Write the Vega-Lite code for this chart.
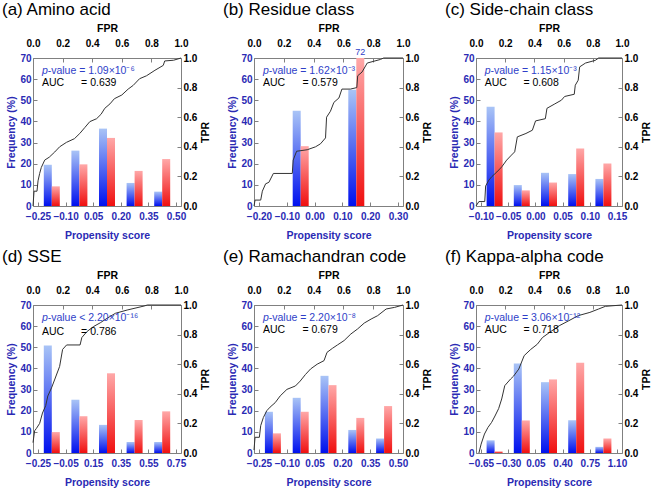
{
  "$schema": "https://vega.github.io/schema/vega-lite/v6.json",
  "background": "white",
  "padding": {"left": 1, "top": 0, "right": 0, "bottom": 1},
  "datasets": {
    "bars_a": [
      {"score": -0.175, "series": "S1", "freq": 19.5}, {"score": -0.025, "series": "S1", "freq": 26.2}, {"score": 0.125, "series": "S1", "freq": 36.6}, {"score": 0.275, "series": "S1", "freq": 10.9}, {"score": 0.425, "series": "S1", "freq": 6.8},
      {"score": -0.175, "series": "S2", "freq": 9.3}, {"score": -0.025, "series": "S2", "freq": 19.7}, {"score": 0.125, "series": "S2", "freq": 32.2}, {"score": 0.275, "series": "S2", "freq": 16.6}, {"score": 0.425, "series": "S2", "freq": 22.2}
    ],
    "bars_b": [
      {"score": -0.05, "series": "S1", "freq": 45}, {"score": 0.15, "series": "S1", "freq": 55},
      {"score": -0.05, "series": "S2", "freq": 28.3}, {"score": 0.15, "series": "S2", "freq": 72}
    ],
    "bars_c": [
      {"score": -0.075, "series": "S1", "freq": 46.9}, {"score": -0.025, "series": "S1", "freq": 9.9}, {"score": 0.025, "series": "S1", "freq": 15.7}, {"score": 0.075, "series": "S1", "freq": 15.1}, {"score": 0.125, "series": "S1", "freq": 12.8},
      {"score": -0.075, "series": "S2", "freq": 34.8}, {"score": -0.025, "series": "S2", "freq": 7.4}, {"score": 0.025, "series": "S2", "freq": 11.1}, {"score": 0.075, "series": "S2", "freq": 27.2}, {"score": 0.125, "series": "S2", "freq": 20.1}
    ],
    "bars_d": [
      {"score": -0.15, "series": "S1", "freq": 50.9}, {"score": 0.05, "series": "S1", "freq": 25.2}, {"score": 0.25, "series": "S1", "freq": 13.3}, {"score": 0.45, "series": "S1", "freq": 5.2}, {"score": 0.65, "series": "S1", "freq": 5.2},
      {"score": -0.15, "series": "S2", "freq": 9.9}, {"score": 0.05, "series": "S2", "freq": 17.4}, {"score": 0.25, "series": "S2", "freq": 37.7}, {"score": 0.45, "series": "S2", "freq": 15.6}, {"score": 0.65, "series": "S2", "freq": 19.7}
    ],
    "bars_e": [
      {"score": -0.175, "series": "S1", "freq": 19.5}, {"score": -0.025, "series": "S1", "freq": 26.1}, {"score": 0.125, "series": "S1", "freq": 36.5}, {"score": 0.275, "series": "S1", "freq": 10.9}, {"score": 0.425, "series": "S1", "freq": 6.9},
      {"score": -0.175, "series": "S2", "freq": 9.3}, {"score": -0.025, "series": "S2", "freq": 19.5}, {"score": 0.125, "series": "S2", "freq": 32.1}, {"score": 0.275, "series": "S2", "freq": 16.6}, {"score": 0.425, "series": "S2", "freq": 22.2}
    ],
    "bars_f": [
      {"score": -0.475, "series": "S1", "freq": 6.0}, {"score": -0.125, "series": "S1", "freq": 42.3}, {"score": 0.225, "series": "S1", "freq": 33.5}, {"score": 0.575, "series": "S1", "freq": 15.5}, {"score": 0.925, "series": "S1", "freq": 2.9},
      {"score": -0.475, "series": "S2", "freq": 0.8}, {"score": -0.125, "series": "S2", "freq": 15.4}, {"score": 0.225, "series": "S2", "freq": 34.8}, {"score": 0.575, "series": "S2", "freq": 42.7}, {"score": 0.925, "series": "S2", "freq": 6.8}
    ],
    "roc_a": [
      {"fpr": 0, "tpr": 0}, {"fpr": 0.007, "tpr": 0.1}, {"fpr": 0.027, "tpr": 0.1}, {"fpr": 0.034, "tpr": 0.17}, {"fpr": 0.045, "tpr": 0.22}, {"fpr": 0.056, "tpr": 0.26}, {"fpr": 0.079, "tpr": 0.31}, {"fpr": 0.11, "tpr": 0.33}, {"fpr": 0.147, "tpr": 0.365}, {"fpr": 0.18, "tpr": 0.4}, {"fpr": 0.226, "tpr": 0.43}, {"fpr": 0.28, "tpr": 0.455}, {"fpr": 0.316, "tpr": 0.49}, {"fpr": 0.35, "tpr": 0.53}, {"fpr": 0.384, "tpr": 0.57}, {"fpr": 0.43, "tpr": 0.59}, {"fpr": 0.46, "tpr": 0.62}, {"fpr": 0.485, "tpr": 0.66}, {"fpr": 0.52, "tpr": 0.69}, {"fpr": 0.55, "tpr": 0.725}, {"fpr": 0.6, "tpr": 0.75}, {"fpr": 0.643, "tpr": 0.79}, {"fpr": 0.677, "tpr": 0.815}, {"fpr": 0.72, "tpr": 0.86}, {"fpr": 0.767, "tpr": 0.88}, {"fpr": 0.824, "tpr": 0.917}, {"fpr": 0.88, "tpr": 0.95}, {"fpr": 0.89, "tpr": 0.98}, {"fpr": 0.95, "tpr": 0.985}, {"fpr": 1, "tpr": 1}
    ],
    "roc_b": [
      {"fpr": 0, "tpr": 0}, {"fpr": 0.007, "tpr": 0.04}, {"fpr": 0.045, "tpr": 0.04}, {"fpr": 0.056, "tpr": 0.1}, {"fpr": 0.078, "tpr": 0.15}, {"fpr": 0.1, "tpr": 0.16}, {"fpr": 0.13, "tpr": 0.22}, {"fpr": 0.257, "tpr": 0.22}, {"fpr": 0.263, "tpr": 0.31}, {"fpr": 0.286, "tpr": 0.37}, {"fpr": 0.357, "tpr": 0.38}, {"fpr": 0.413, "tpr": 0.4}, {"fpr": 0.446, "tpr": 0.42}, {"fpr": 0.48, "tpr": 0.46}, {"fpr": 0.487, "tpr": 0.6}, {"fpr": 0.513, "tpr": 0.64}, {"fpr": 0.536, "tpr": 0.7}, {"fpr": 0.57, "tpr": 0.73}, {"fpr": 0.59, "tpr": 0.79}, {"fpr": 0.647, "tpr": 0.79}, {"fpr": 0.69, "tpr": 0.8}, {"fpr": 0.696, "tpr": 0.88}, {"fpr": 0.725, "tpr": 0.905}, {"fpr": 0.76, "tpr": 0.966}, {"fpr": 0.848, "tpr": 0.99}, {"fpr": 0.87, "tpr": 1}, {"fpr": 1, "tpr": 1}
    ],
    "roc_c": [
      {"fpr": 0, "tpr": 0}, {"fpr": 0.02, "tpr": 0.03}, {"fpr": 0.06, "tpr": 0.03}, {"fpr": 0.066, "tpr": 0.135}, {"fpr": 0.088, "tpr": 0.175}, {"fpr": 0.11, "tpr": 0.2}, {"fpr": 0.143, "tpr": 0.23}, {"fpr": 0.177, "tpr": 0.265}, {"fpr": 0.21, "tpr": 0.31}, {"fpr": 0.243, "tpr": 0.344}, {"fpr": 0.265, "tpr": 0.366}, {"fpr": 0.283, "tpr": 0.467}, {"fpr": 0.342, "tpr": 0.49}, {"fpr": 0.386, "tpr": 0.512}, {"fpr": 0.408, "tpr": 0.575}, {"fpr": 0.475, "tpr": 0.59}, {"fpr": 0.486, "tpr": 0.66}, {"fpr": 0.54, "tpr": 0.69}, {"fpr": 0.585, "tpr": 0.715}, {"fpr": 0.607, "tpr": 0.74}, {"fpr": 0.673, "tpr": 0.755}, {"fpr": 0.68, "tpr": 0.816}, {"fpr": 0.7, "tpr": 0.85}, {"fpr": 0.71, "tpr": 0.94}, {"fpr": 0.75, "tpr": 0.966}, {"fpr": 0.817, "tpr": 0.984}, {"fpr": 0.84, "tpr": 1}, {"fpr": 1, "tpr": 1}
    ],
    "roc_d": [
      {"fpr": 0, "tpr": 0.07}, {"fpr": 0.011, "tpr": 0.15}, {"fpr": 0.023, "tpr": 0.166}, {"fpr": 0.045, "tpr": 0.2}, {"fpr": 0.064, "tpr": 0.27}, {"fpr": 0.086, "tpr": 0.32}, {"fpr": 0.1, "tpr": 0.385}, {"fpr": 0.125, "tpr": 0.44}, {"fpr": 0.148, "tpr": 0.5}, {"fpr": 0.18, "tpr": 0.585}, {"fpr": 0.2, "tpr": 0.7}, {"fpr": 0.227, "tpr": 0.73}, {"fpr": 0.318, "tpr": 0.73}, {"fpr": 0.33, "tpr": 0.78}, {"fpr": 0.364, "tpr": 0.82}, {"fpr": 0.41, "tpr": 0.855}, {"fpr": 0.455, "tpr": 0.88}, {"fpr": 0.5, "tpr": 0.91}, {"fpr": 0.557, "tpr": 0.944}, {"fpr": 0.636, "tpr": 0.966}, {"fpr": 0.75, "tpr": 0.993}, {"fpr": 0.773, "tpr": 1}, {"fpr": 1, "tpr": 1}
    ],
    "roc_e": [
      {"fpr": 0, "tpr": 0.02}, {"fpr": 0.007, "tpr": 0.106}, {"fpr": 0.036, "tpr": 0.106}, {"fpr": 0.045, "tpr": 0.185}, {"fpr": 0.063, "tpr": 0.24}, {"fpr": 0.086, "tpr": 0.286}, {"fpr": 0.108, "tpr": 0.31}, {"fpr": 0.142, "tpr": 0.34}, {"fpr": 0.176, "tpr": 0.386}, {"fpr": 0.221, "tpr": 0.43}, {"fpr": 0.278, "tpr": 0.453}, {"fpr": 0.31, "tpr": 0.486}, {"fpr": 0.345, "tpr": 0.53}, {"fpr": 0.38, "tpr": 0.568}, {"fpr": 0.424, "tpr": 0.6}, {"fpr": 0.47, "tpr": 0.624}, {"fpr": 0.49, "tpr": 0.68}, {"fpr": 0.526, "tpr": 0.707}, {"fpr": 0.56, "tpr": 0.73}, {"fpr": 0.605, "tpr": 0.76}, {"fpr": 0.65, "tpr": 0.804}, {"fpr": 0.695, "tpr": 0.838}, {"fpr": 0.74, "tpr": 0.878}, {"fpr": 0.786, "tpr": 0.905}, {"fpr": 0.83, "tpr": 0.928}, {"fpr": 0.887, "tpr": 0.973}, {"fpr": 0.944, "tpr": 0.984}, {"fpr": 1, "tpr": 1}
    ],
    "roc_f": [
      {"fpr": 0.02, "tpr": 0}, {"fpr": 0.035, "tpr": 0.06}, {"fpr": 0.058, "tpr": 0.128}, {"fpr": 0.082, "tpr": 0.173}, {"fpr": 0.107, "tpr": 0.207}, {"fpr": 0.13, "tpr": 0.25}, {"fpr": 0.155, "tpr": 0.3}, {"fpr": 0.176, "tpr": 0.365}, {"fpr": 0.197, "tpr": 0.455}, {"fpr": 0.237, "tpr": 0.5}, {"fpr": 0.258, "tpr": 0.52}, {"fpr": 0.293, "tpr": 0.567}, {"fpr": 0.33, "tpr": 0.658}, {"fpr": 0.375, "tpr": 0.7}, {"fpr": 0.42, "tpr": 0.735}, {"fpr": 0.455, "tpr": 0.78}, {"fpr": 0.52, "tpr": 0.826}, {"fpr": 0.57, "tpr": 0.86}, {"fpr": 0.636, "tpr": 0.894}, {"fpr": 0.7, "tpr": 0.928}, {"fpr": 0.78, "tpr": 0.95}, {"fpr": 0.84, "tpr": 0.973}, {"fpr": 0.886, "tpr": 0.991}, {"fpr": 1, "tpr": 1}
    ]
  },
  "concat": [
    {
      "width": 148, "height": 148,
      "title": {"text": "(a) Amino acid", "dx": -31},
      "layer": [
        {
          "data": {"name": "bars_a"},
          "encoding": {
            "x": {"field": "score", "type": "quantitative", "scale": {"domain": [-0.25, 0.5], "nice": false, "zero": false}, "axis": {"orient": "bottom", "title": "Propensity score", "values": [-0.25, -0.1, 0.05, 0.2, 0.35, 0.5], "format": ".2f"}},
            "y": {"field": "freq", "type": "quantitative", "scale": {"domain": [0, 70], "nice": false, "clamp": true}, "axis": {"orient": "left", "title": "Frequency (%)", "values": [0, 10, 20, 30, 40, 50, 60, 70]}}
          },
          "layer": [
            {"transform": [{"filter": "datum.series === 'S1'"}], "mark": {"type": "bar", "size": 8, "xOffset": -4, "color": {"gradient": "linear", "x1": 0, "y1": 0, "x2": 0, "y2": 1, "stops": [{"offset": 0, "color": "#a9c4f6"}, {"offset": 1, "color": "#0010ee"}]}}},
            {"transform": [{"filter": "datum.series === 'S2'"}], "mark": {"type": "bar", "size": 8, "xOffset": 4, "color": {"gradient": "linear", "x1": 0, "y1": 0, "x2": 0, "y2": 1, "stops": [{"offset": 0, "color": "#ffa8a8"}, {"offset": 1, "color": "#f01010"}]}}}
          ]
        },
        {
          "data": {"name": "roc_a"}, "mark": {"type": "line", "color": "#333333", "strokeWidth": 1},
          "encoding": {
            "x": {"field": "fpr", "type": "quantitative", "scale": {"domain": [0, 1], "nice": false}, "axis": {"orient": "top", "title": "FPR", "values": [0, 0.2, 0.4, 0.6, 0.8, 1], "format": ".1f"}},
            "y": {"field": "tpr", "type": "quantitative", "scale": {"domain": [0, 1], "nice": false}, "axis": {"orient": "right", "title": "TPR", "values": [0, 0.2, 0.4, 0.6, 0.8, 1], "format": ".1f"}}
          }
        },
        {
          "data": {"values": [{}]},
          "layer": [
            {"mark": {"type": "text", "text": "p", "fontStyle": "italic", "fontSize": 10.5, "color": "#2e3ec8", "align": "left", "baseline": "alphabetic"}, "encoding": {"x": {"datum": 0.06, "type": "quantitative", "scale": {"domain": [0, 1]}, "axis": null}, "y": {"datum": 0.89, "type": "quantitative", "scale": {"domain": [0, 1]}, "axis": null}}},
            {"mark": {"type": "text", "text": "-value = 1.09×10⁻⁶", "fontSize": 10.5, "color": "#2e3ec8", "align": "left", "baseline": "alphabetic"}, "encoding": {"x": {"datum": 0.099, "type": "quantitative", "scale": {"domain": [0, 1]}, "axis": null}, "y": {"datum": 0.89, "type": "quantitative", "scale": {"domain": [0, 1]}, "axis": null}}},
            {"mark": {"type": "text", "text": "AUC", "fontSize": 10.5, "color": "black", "align": "left", "baseline": "alphabetic"}, "encoding": {"x": {"datum": 0.06, "type": "quantitative", "scale": {"domain": [0, 1]}, "axis": null}, "y": {"datum": 0.81, "type": "quantitative", "scale": {"domain": [0, 1]}, "axis": null}}},
            {"mark": {"type": "text", "text": "= 0.639", "fontSize": 10.5, "color": "black", "align": "left", "baseline": "alphabetic"}, "encoding": {"x": {"datum": 0.325, "type": "quantitative", "scale": {"domain": [0, 1]}, "axis": null}, "y": {"datum": 0.81, "type": "quantitative", "scale": {"domain": [0, 1]}, "axis": null}}}
          ]
        }
      ],
      "resolve": {"scale": {"x": "independent", "y": "independent"}}
    },
    {
      "width": 149, "height": 148,
      "title": {"text": "(b) Residue class", "dx": -31},
      "layer": [
        {
          "data": {"name": "bars_b"},
          "encoding": {
            "x": {"field": "score", "type": "quantitative", "scale": {"domain": [-0.2, 0.3], "nice": false, "zero": false}, "axis": {"orient": "bottom", "title": "Propensity score", "values": [-0.2, -0.1, 0, 0.1, 0.2, 0.3], "format": ".2f"}},
            "y": {"field": "freq", "type": "quantitative", "scale": {"domain": [0, 70], "nice": false, "clamp": true}, "axis": {"orient": "left", "title": "Frequency (%)", "values": [0, 10, 20, 30, 40, 50, 60, 70]}}
          },
          "layer": [
            {"transform": [{"filter": "datum.series === 'S1'"}], "mark": {"type": "bar", "size": 8, "xOffset": -4, "color": {"gradient": "linear", "x1": 0, "y1": 0, "x2": 0, "y2": 1, "stops": [{"offset": 0, "color": "#a9c4f6"}, {"offset": 1, "color": "#0010ee"}]}}},
            {"transform": [{"filter": "datum.series === 'S2'"}], "mark": {"type": "bar", "size": 8, "xOffset": 4, "color": {"gradient": "linear", "x1": 0, "y1": 0, "x2": 0, "y2": 1, "stops": [{"offset": 0, "color": "#ffa8a8"}, {"offset": 1, "color": "#f01010"}]}}},
            {"transform": [{"filter": "datum.series === 'S2' && datum.freq > 70"}], "mark": {"type": "text", "xOffset": 4, "dy": -1, "fontSize": 9, "color": "#2e3ec8", "baseline": "bottom"}, "encoding": {"text": {"field": "freq", "type": "quantitative"}}}
          ]
        },
        {
          "data": {"name": "roc_b"}, "mark": {"type": "line", "color": "#333333", "strokeWidth": 1},
          "encoding": {
            "x": {"field": "fpr", "type": "quantitative", "scale": {"domain": [0, 1], "nice": false}, "axis": {"orient": "top", "title": "FPR", "values": [0, 0.2, 0.4, 0.6, 0.8, 1], "format": ".1f"}},
            "y": {"field": "tpr", "type": "quantitative", "scale": {"domain": [0, 1], "nice": false}, "axis": {"orient": "right", "title": "TPR", "values": [0, 0.2, 0.4, 0.6, 0.8, 1], "format": ".1f"}}
          }
        },
        {
          "data": {"values": [{}]},
          "layer": [
            {"mark": {"type": "text", "text": "p", "fontStyle": "italic", "fontSize": 10.5, "color": "#2e3ec8", "align": "left", "baseline": "alphabetic"}, "encoding": {"x": {"datum": 0.06, "type": "quantitative", "scale": {"domain": [0, 1]}, "axis": null}, "y": {"datum": 0.89, "type": "quantitative", "scale": {"domain": [0, 1]}, "axis": null}}},
            {"mark": {"type": "text", "text": "-value = 1.62×10⁻³", "fontSize": 10.5, "color": "#2e3ec8", "align": "left", "baseline": "alphabetic"}, "encoding": {"x": {"datum": 0.099, "type": "quantitative", "scale": {"domain": [0, 1]}, "axis": null}, "y": {"datum": 0.89, "type": "quantitative", "scale": {"domain": [0, 1]}, "axis": null}}},
            {"mark": {"type": "text", "text": "AUC", "fontSize": 10.5, "color": "black", "align": "left", "baseline": "alphabetic"}, "encoding": {"x": {"datum": 0.06, "type": "quantitative", "scale": {"domain": [0, 1]}, "axis": null}, "y": {"datum": 0.81, "type": "quantitative", "scale": {"domain": [0, 1]}, "axis": null}}},
            {"mark": {"type": "text", "text": "= 0.579", "fontSize": 10.5, "color": "black", "align": "left", "baseline": "alphabetic"}, "encoding": {"x": {"datum": 0.325, "type": "quantitative", "scale": {"domain": [0, 1]}, "axis": null}, "y": {"datum": 0.81, "type": "quantitative", "scale": {"domain": [0, 1]}, "axis": null}}}
          ]
        }
      ],
      "resolve": {"scale": {"x": "independent", "y": "independent"}}
    },
    {
      "width": 146, "height": 148,
      "title": {"text": "(c) Side-chain class", "dx": -31},
      "layer": [
        {
          "data": {"name": "bars_c"},
          "encoding": {
            "x": {"field": "score", "type": "quantitative", "scale": {"domain": [-0.1, 0.15], "nice": false, "zero": false}, "axis": {"orient": "bottom", "title": "Propensity score", "values": [-0.1, -0.05, 0, 0.05, 0.1, 0.15], "format": ".2f"}},
            "y": {"field": "freq", "type": "quantitative", "scale": {"domain": [0, 70], "nice": false, "clamp": true}, "axis": {"orient": "left", "title": "Frequency (%)", "values": [0, 10, 20, 30, 40, 50, 60, 70]}}
          },
          "layer": [
            {"transform": [{"filter": "datum.series === 'S1'"}], "mark": {"type": "bar", "size": 8, "xOffset": -4, "color": {"gradient": "linear", "x1": 0, "y1": 0, "x2": 0, "y2": 1, "stops": [{"offset": 0, "color": "#a9c4f6"}, {"offset": 1, "color": "#0010ee"}]}}},
            {"transform": [{"filter": "datum.series === 'S2'"}], "mark": {"type": "bar", "size": 8, "xOffset": 4, "color": {"gradient": "linear", "x1": 0, "y1": 0, "x2": 0, "y2": 1, "stops": [{"offset": 0, "color": "#ffa8a8"}, {"offset": 1, "color": "#f01010"}]}}}
          ]
        },
        {
          "data": {"name": "roc_c"}, "mark": {"type": "line", "color": "#333333", "strokeWidth": 1},
          "encoding": {
            "x": {"field": "fpr", "type": "quantitative", "scale": {"domain": [0, 1], "nice": false}, "axis": {"orient": "top", "title": "FPR", "values": [0, 0.2, 0.4, 0.6, 0.8, 1], "format": ".1f"}},
            "y": {"field": "tpr", "type": "quantitative", "scale": {"domain": [0, 1], "nice": false}, "axis": {"orient": "right", "title": "TPR", "values": [0, 0.2, 0.4, 0.6, 0.8, 1], "format": ".1f"}}
          }
        },
        {
          "data": {"values": [{}]},
          "layer": [
            {"mark": {"type": "text", "text": "p", "fontStyle": "italic", "fontSize": 10.5, "color": "#2e3ec8", "align": "left", "baseline": "alphabetic"}, "encoding": {"x": {"datum": 0.06, "type": "quantitative", "scale": {"domain": [0, 1]}, "axis": null}, "y": {"datum": 0.89, "type": "quantitative", "scale": {"domain": [0, 1]}, "axis": null}}},
            {"mark": {"type": "text", "text": "-value = 1.15×10⁻³", "fontSize": 10.5, "color": "#2e3ec8", "align": "left", "baseline": "alphabetic"}, "encoding": {"x": {"datum": 0.099, "type": "quantitative", "scale": {"domain": [0, 1]}, "axis": null}, "y": {"datum": 0.89, "type": "quantitative", "scale": {"domain": [0, 1]}, "axis": null}}},
            {"mark": {"type": "text", "text": "AUC", "fontSize": 10.5, "color": "black", "align": "left", "baseline": "alphabetic"}, "encoding": {"x": {"datum": 0.06, "type": "quantitative", "scale": {"domain": [0, 1]}, "axis": null}, "y": {"datum": 0.81, "type": "quantitative", "scale": {"domain": [0, 1]}, "axis": null}}},
            {"mark": {"type": "text", "text": "= 0.608", "fontSize": 10.5, "color": "black", "align": "left", "baseline": "alphabetic"}, "encoding": {"x": {"datum": 0.325, "type": "quantitative", "scale": {"domain": [0, 1]}, "axis": null}, "y": {"datum": 0.81, "type": "quantitative", "scale": {"domain": [0, 1]}, "axis": null}}}
          ]
        }
      ],
      "resolve": {"scale": {"x": "independent", "y": "independent"}}
    },
    {
      "width": 148, "height": 148,
      "title": {"text": "(d) SSE", "dx": -31},
      "layer": [
        {
          "data": {"name": "bars_d"},
          "encoding": {
            "x": {"field": "score", "type": "quantitative", "scale": {"domain": [-0.25, 0.75], "nice": false, "zero": false}, "axis": {"orient": "bottom", "title": "Propensity score", "values": [-0.25, -0.05, 0.15, 0.35, 0.55, 0.75], "format": ".2f"}},
            "y": {"field": "freq", "type": "quantitative", "scale": {"domain": [0, 70], "nice": false, "clamp": true}, "axis": {"orient": "left", "title": "Frequency (%)", "values": [0, 10, 20, 30, 40, 50, 60, 70]}}
          },
          "layer": [
            {"transform": [{"filter": "datum.series === 'S1'"}], "mark": {"type": "bar", "size": 8, "xOffset": -4, "color": {"gradient": "linear", "x1": 0, "y1": 0, "x2": 0, "y2": 1, "stops": [{"offset": 0, "color": "#a9c4f6"}, {"offset": 1, "color": "#0010ee"}]}}},
            {"transform": [{"filter": "datum.series === 'S2'"}], "mark": {"type": "bar", "size": 8, "xOffset": 4, "color": {"gradient": "linear", "x1": 0, "y1": 0, "x2": 0, "y2": 1, "stops": [{"offset": 0, "color": "#ffa8a8"}, {"offset": 1, "color": "#f01010"}]}}}
          ]
        },
        {
          "data": {"name": "roc_d"}, "mark": {"type": "line", "color": "#333333", "strokeWidth": 1},
          "encoding": {
            "x": {"field": "fpr", "type": "quantitative", "scale": {"domain": [0, 1], "nice": false}, "axis": {"orient": "top", "title": "FPR", "values": [0, 0.2, 0.4, 0.6, 0.8, 1], "format": ".1f"}},
            "y": {"field": "tpr", "type": "quantitative", "scale": {"domain": [0, 1], "nice": false}, "axis": {"orient": "right", "title": "TPR", "values": [0, 0.2, 0.4, 0.6, 0.8, 1], "format": ".1f"}}
          }
        },
        {
          "data": {"values": [{}]},
          "layer": [
            {"mark": {"type": "text", "text": "p", "fontStyle": "italic", "fontSize": 10.5, "color": "#2e3ec8", "align": "left", "baseline": "alphabetic"}, "encoding": {"x": {"datum": 0.06, "type": "quantitative", "scale": {"domain": [0, 1]}, "axis": null}, "y": {"datum": 0.89, "type": "quantitative", "scale": {"domain": [0, 1]}, "axis": null}}},
            {"mark": {"type": "text", "text": "-value < 2.20×10⁻¹⁶", "fontSize": 10.5, "color": "#2e3ec8", "align": "left", "baseline": "alphabetic"}, "encoding": {"x": {"datum": 0.099, "type": "quantitative", "scale": {"domain": [0, 1]}, "axis": null}, "y": {"datum": 0.89, "type": "quantitative", "scale": {"domain": [0, 1]}, "axis": null}}},
            {"mark": {"type": "text", "text": "AUC", "fontSize": 10.5, "color": "black", "align": "left", "baseline": "alphabetic"}, "encoding": {"x": {"datum": 0.06, "type": "quantitative", "scale": {"domain": [0, 1]}, "axis": null}, "y": {"datum": 0.8, "type": "quantitative", "scale": {"domain": [0, 1]}, "axis": null}}},
            {"mark": {"type": "text", "text": "= 0.786", "fontSize": 10.5, "color": "black", "align": "left", "baseline": "alphabetic"}, "encoding": {"x": {"datum": 0.325, "type": "quantitative", "scale": {"domain": [0, 1]}, "axis": null}, "y": {"datum": 0.8, "type": "quantitative", "scale": {"domain": [0, 1]}, "axis": null}}}
          ]
        }
      ],
      "resolve": {"scale": {"x": "independent", "y": "independent"}}
    },
    {
      "width": 149, "height": 148,
      "title": {"text": "(e) Ramachandran code", "dx": -31},
      "layer": [
        {
          "data": {"name": "bars_e"},
          "encoding": {
            "x": {"field": "score", "type": "quantitative", "scale": {"domain": [-0.25, 0.5], "nice": false, "zero": false}, "axis": {"orient": "bottom", "title": "Propensity score", "values": [-0.25, -0.1, 0.05, 0.2, 0.35, 0.5], "format": ".2f"}},
            "y": {"field": "freq", "type": "quantitative", "scale": {"domain": [0, 70], "nice": false, "clamp": true}, "axis": {"orient": "left", "title": "Frequency (%)", "values": [0, 10, 20, 30, 40, 50, 60, 70]}}
          },
          "layer": [
            {"transform": [{"filter": "datum.series === 'S1'"}], "mark": {"type": "bar", "size": 8, "xOffset": -4, "color": {"gradient": "linear", "x1": 0, "y1": 0, "x2": 0, "y2": 1, "stops": [{"offset": 0, "color": "#a9c4f6"}, {"offset": 1, "color": "#0010ee"}]}}},
            {"transform": [{"filter": "datum.series === 'S2'"}], "mark": {"type": "bar", "size": 8, "xOffset": 4, "color": {"gradient": "linear", "x1": 0, "y1": 0, "x2": 0, "y2": 1, "stops": [{"offset": 0, "color": "#ffa8a8"}, {"offset": 1, "color": "#f01010"}]}}}
          ]
        },
        {
          "data": {"name": "roc_e"}, "mark": {"type": "line", "color": "#333333", "strokeWidth": 1},
          "encoding": {
            "x": {"field": "fpr", "type": "quantitative", "scale": {"domain": [0, 1], "nice": false}, "axis": {"orient": "top", "title": "FPR", "values": [0, 0.2, 0.4, 0.6, 0.8, 1], "format": ".1f"}},
            "y": {"field": "tpr", "type": "quantitative", "scale": {"domain": [0, 1], "nice": false}, "axis": {"orient": "right", "title": "TPR", "values": [0, 0.2, 0.4, 0.6, 0.8, 1], "format": ".1f"}}
          }
        },
        {
          "data": {"values": [{}]},
          "layer": [
            {"mark": {"type": "text", "text": "p", "fontStyle": "italic", "fontSize": 10.5, "color": "#2e3ec8", "align": "left", "baseline": "alphabetic"}, "encoding": {"x": {"datum": 0.06, "type": "quantitative", "scale": {"domain": [0, 1]}, "axis": null}, "y": {"datum": 0.89, "type": "quantitative", "scale": {"domain": [0, 1]}, "axis": null}}},
            {"mark": {"type": "text", "text": "-value = 2.20×10⁻⁸", "fontSize": 10.5, "color": "#2e3ec8", "align": "left", "baseline": "alphabetic"}, "encoding": {"x": {"datum": 0.099, "type": "quantitative", "scale": {"domain": [0, 1]}, "axis": null}, "y": {"datum": 0.89, "type": "quantitative", "scale": {"domain": [0, 1]}, "axis": null}}},
            {"mark": {"type": "text", "text": "AUC", "fontSize": 10.5, "color": "black", "align": "left", "baseline": "alphabetic"}, "encoding": {"x": {"datum": 0.06, "type": "quantitative", "scale": {"domain": [0, 1]}, "axis": null}, "y": {"datum": 0.81, "type": "quantitative", "scale": {"domain": [0, 1]}, "axis": null}}},
            {"mark": {"type": "text", "text": "= 0.679", "fontSize": 10.5, "color": "black", "align": "left", "baseline": "alphabetic"}, "encoding": {"x": {"datum": 0.325, "type": "quantitative", "scale": {"domain": [0, 1]}, "axis": null}, "y": {"datum": 0.81, "type": "quantitative", "scale": {"domain": [0, 1]}, "axis": null}}}
          ]
        }
      ],
      "resolve": {"scale": {"x": "independent", "y": "independent"}}
    },
    {
      "width": 146, "height": 148,
      "title": {"text": "(f) Kappa-alpha code", "dx": -31},
      "layer": [
        {
          "data": {"name": "bars_f"},
          "encoding": {
            "x": {"field": "score", "type": "quantitative", "scale": {"domain": [-0.65, 1.1], "nice": false, "zero": false}, "axis": {"orient": "bottom", "title": "Propensity score", "values": [-0.65, -0.3, 0.05, 0.4, 0.75, 1.1], "format": ".2f"}},
            "y": {"field": "freq", "type": "quantitative", "scale": {"domain": [0, 70], "nice": false, "clamp": true}, "axis": {"orient": "left", "title": "Frequency (%)", "values": [0, 10, 20, 30, 40, 50, 60, 70]}}
          },
          "layer": [
            {"transform": [{"filter": "datum.series === 'S1'"}], "mark": {"type": "bar", "size": 8, "xOffset": -4, "color": {"gradient": "linear", "x1": 0, "y1": 0, "x2": 0, "y2": 1, "stops": [{"offset": 0, "color": "#a9c4f6"}, {"offset": 1, "color": "#0010ee"}]}}},
            {"transform": [{"filter": "datum.series === 'S2'"}], "mark": {"type": "bar", "size": 8, "xOffset": 4, "color": {"gradient": "linear", "x1": 0, "y1": 0, "x2": 0, "y2": 1, "stops": [{"offset": 0, "color": "#ffa8a8"}, {"offset": 1, "color": "#f01010"}]}}}
          ]
        },
        {
          "data": {"name": "roc_f"}, "mark": {"type": "line", "color": "#333333", "strokeWidth": 1},
          "encoding": {
            "x": {"field": "fpr", "type": "quantitative", "scale": {"domain": [0, 1], "nice": false}, "axis": {"orient": "top", "title": "FPR", "values": [0, 0.2, 0.4, 0.6, 0.8, 1], "format": ".1f"}},
            "y": {"field": "tpr", "type": "quantitative", "scale": {"domain": [0, 1], "nice": false}, "axis": {"orient": "right", "title": "TPR", "values": [0, 0.2, 0.4, 0.6, 0.8, 1], "format": ".1f"}}
          }
        },
        {
          "data": {"values": [{}]},
          "layer": [
            {"mark": {"type": "text", "text": "p", "fontStyle": "italic", "fontSize": 10.5, "color": "#2e3ec8", "align": "left", "baseline": "alphabetic"}, "encoding": {"x": {"datum": 0.06, "type": "quantitative", "scale": {"domain": [0, 1]}, "axis": null}, "y": {"datum": 0.89, "type": "quantitative", "scale": {"domain": [0, 1]}, "axis": null}}},
            {"mark": {"type": "text", "text": "-value = 3.06×10⁻¹²", "fontSize": 10.5, "color": "#2e3ec8", "align": "left", "baseline": "alphabetic"}, "encoding": {"x": {"datum": 0.099, "type": "quantitative", "scale": {"domain": [0, 1]}, "axis": null}, "y": {"datum": 0.89, "type": "quantitative", "scale": {"domain": [0, 1]}, "axis": null}}},
            {"mark": {"type": "text", "text": "AUC", "fontSize": 10.5, "color": "black", "align": "left", "baseline": "alphabetic"}, "encoding": {"x": {"datum": 0.06, "type": "quantitative", "scale": {"domain": [0, 1]}, "axis": null}, "y": {"datum": 0.81, "type": "quantitative", "scale": {"domain": [0, 1]}, "axis": null}}},
            {"mark": {"type": "text", "text": "= 0.718", "fontSize": 10.5, "color": "black", "align": "left", "baseline": "alphabetic"}, "encoding": {"x": {"datum": 0.325, "type": "quantitative", "scale": {"domain": [0, 1]}, "axis": null}, "y": {"datum": 0.81, "type": "quantitative", "scale": {"domain": [0, 1]}, "axis": null}}}
          ]
        }
      ],
      "resolve": {"scale": {"x": "independent", "y": "independent"}}
    }
  ],
  "columns": 3,
  "spacing": {"row": 99, "column": 73},
  "bounds": "flush",
  "config": {
    "font": "Liberation Sans",
    "view": {"stroke": "#808080", "strokeWidth": 1},
    "axis": {"grid": false, "domain": false, "ticks": true, "tickColor": "#808080", "tickSize": -4, "labelFontSize": 10, "labelFontWeight": "bold", "titleFontSize": 10.5, "titleFontWeight": "bold", "labelFlush": false, "labelOverlap": false, "labelBound": false},
    "axisLeft": {"labelColor": "#2a2ab4", "titleColor": "#2a2ab4", "labelPadding": 6, "titlePadding": 3},
    "axisBottom": {"labelColor": "#2a2ab4", "titleColor": "#2a2ab4", "labelPadding": 9, "titlePadding": 9},
    "axisTop": {"labelColor": "black", "titleColor": "black", "labelPadding": 14, "titlePadding": 5},
    "axisRight": {"labelColor": "black", "titleColor": "black", "labelPadding": 6, "titlePadding": 4, "titleAngle": 270, "titleBaseline": "top"},
    "title": {"fontSize": 17, "fontWeight": "normal", "anchor": "start", "frame": "group", "color": "black", "offset": 0}
  }
}
